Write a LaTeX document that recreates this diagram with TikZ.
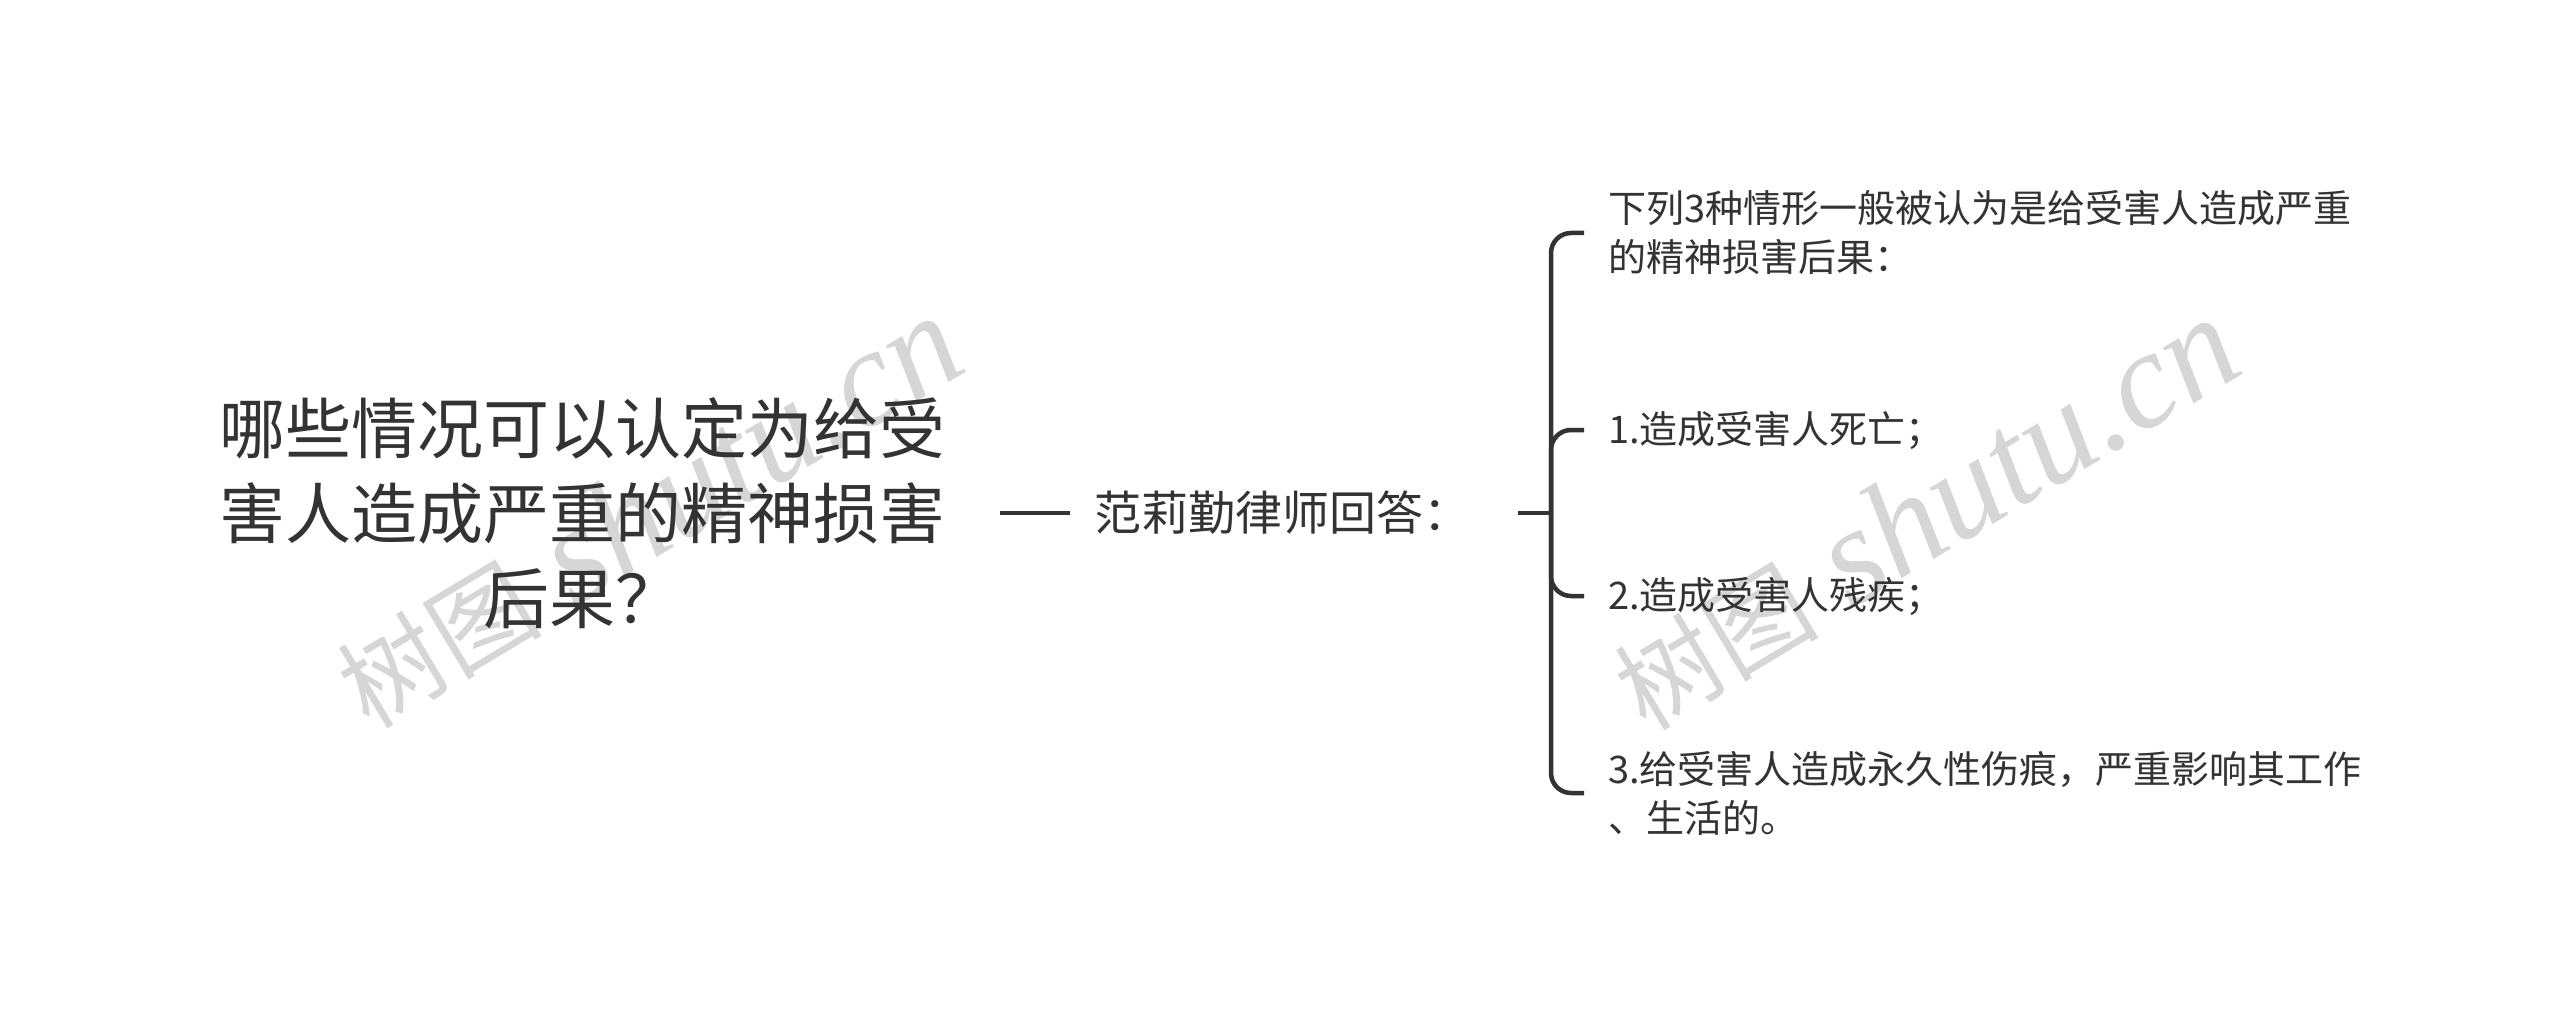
\documentclass[tikz,border=0pt]{standalone}
\usepackage{fontspec}
\setmainfont{Noto Sans CJK SC}
\newfontfamily\wmlatin{Liberation Serif}
\definecolor{ink}{HTML}{333333}
\definecolor{wm}{HTML}{D6D6D6}
\begin{document}
\begin{tikzpicture}[x=1pt,y=-1pt,
  title/.style={text=ink, inner sep=0pt, align=center, font=\fontsize{66}{85}\selectfont},
  answer/.style={text=ink, inner sep=0pt, font=\fontsize{47}{56}\selectfont},
  item/.style={text=ink, inner sep=0pt, anchor=west, align=left, font=\fontsize{38}{49}\selectfont},
  conn/.style={draw=ink, line width=4.5pt},
  brace/.style={draw=ink, line width=4.5pt, rounded corners=20pt},
  wmark/.style={text=wm, inner sep=0pt, rotate=31, font=\fontsize{102}{102}\selectfont},
]
\fill[white] (0,0) rectangle (2560,1027);
\useasboundingbox (0,0) rectangle (2560,1027);
% watermarks
\node[wmark] (w1) at (648,512) {树图{\wmlatin\itshape\fontsize{138}{138}\selectfont\ shutu.cn}};
\node[wmark] (w2) at (1925,514) {树图{\wmlatin\itshape\fontsize{138}{138}\selectfont\ shutu.cn}};
% nodes
\node[title] (t) at (582,513) {哪些情况可以认定为给受\\害人造成严重的精神损害\\后果？};
\node[answer] (a) at (1282,513) {范莉勤律师回答：};
\coordinate (j) at (1551,513);
\node[item] (i0) at (1608,233) {下列3种情形一般被认为是给受害人造成严重\\的精神损害后果：};
\node[item] (i1) at (1608,430) {1.造成受害人死亡；};
\node[item] (i2) at (1608,596) {2.造成受害人残疾；};
\node[item] (i3) at (1608,793) {3.给受害人造成永久性伤痕，严重影响其工作\\、生活的。};
% connectors
\draw[conn, shorten <=55pt, shorten >=24pt] (t.east) -- (a.west);
\draw[conn, shorten <=48pt] (a.east) -- (j);
\draw[brace, shorten >=24pt] (j) |- (i0.west);
\draw[brace, shorten >=24pt] (j) |- (i1.west);
\draw[brace, shorten >=24pt] (j) |- (i2.west);
\draw[brace, shorten >=24pt] (j) |- (i3.west);
\end{tikzpicture}
\end{document}
